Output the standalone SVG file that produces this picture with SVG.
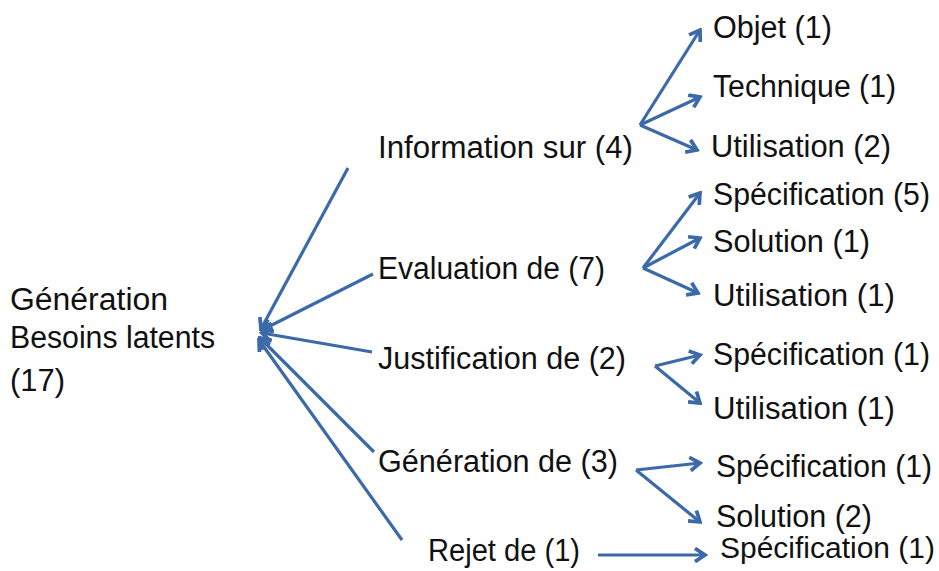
<svg xmlns="http://www.w3.org/2000/svg" width="939" height="571" viewBox="0 0 939 571">
<style>
text{font-family:"Liberation Sans",Arial,sans-serif;font-size:31px;fill:#111}
.c line{stroke:#3c6aa8;stroke-width:3.2;fill:none;marker-end:url(#ah)}
</style>
<defs>
<marker id="ah" viewBox="0 0 12 12" refX="10" refY="6" markerWidth="5" markerHeight="5" orient="auto" markerUnits="strokeWidth">
<polyline points="2.5,1 10,6 2.5,11" fill="none" stroke="#3c6aa8" stroke-width="2.8" stroke-linejoin="miter"/>
</marker>
</defs>
<rect width="939" height="571" fill="#fff"/>
<g class="c" id="connectors">
<line x1="348" y1="168" x2="261" y2="329"/>
<line x1="373" y1="274" x2="262" y2="330"/>
<line x1="372" y1="352" x2="262" y2="333"/>
<line x1="374" y1="452" x2="260" y2="338"/>
<line x1="402" y1="540" x2="259" y2="340"/>
<line x1="640" y1="125" x2="700" y2="30"/>
<line x1="640" y1="125" x2="700" y2="97"/>
<line x1="640" y1="125" x2="697" y2="150"/>
<line x1="643" y1="268" x2="700" y2="193"/>
<line x1="643" y1="268" x2="700" y2="238"/>
<line x1="643" y1="268" x2="698" y2="293"/>
<line x1="655" y1="366" x2="700" y2="355"/>
<line x1="655" y1="366" x2="700" y2="403"/>
<line x1="636" y1="470" x2="700" y2="463"/>
<line x1="636" y1="470" x2="700" y2="522"/>
<line x1="598" y1="555" x2="705" y2="555"/>
</g>
<g id="root"><text x="10" y="310" textLength="158" lengthAdjust="spacingAndGlyphs">Génération</text><text x="10" y="348" textLength="205" lengthAdjust="spacingAndGlyphs">Besoins latents</text><text x="10" y="391" textLength="55" lengthAdjust="spacingAndGlyphs">(17)</text></g>
<g id="info"><text x="378" y="158" textLength="255" lengthAdjust="spacingAndGlyphs">Information sur (4)</text></g>
<g id="objet"><text x="713" y="38" textLength="119" lengthAdjust="spacingAndGlyphs">Objet (1)</text></g>
<g id="technique"><text x="713" y="97" textLength="183" lengthAdjust="spacingAndGlyphs">Technique (1)</text></g>
<g id="util2"><text x="711" y="157" textLength="180" lengthAdjust="spacingAndGlyphs">Utilisation (2)</text></g>
<g id="eval"><text x="378" y="279" textLength="227" lengthAdjust="spacingAndGlyphs">Evaluation de (7)</text></g>
<g id="spec5"><text x="713" y="205" textLength="217" lengthAdjust="spacingAndGlyphs">Spécification (5)</text></g>
<g id="sol1"><text x="713" y="252" textLength="157" lengthAdjust="spacingAndGlyphs">Solution (1)</text></g>
<g id="util1a"><text x="713" y="306" textLength="182" lengthAdjust="spacingAndGlyphs">Utilisation (1)</text></g>
<g id="just"><text x="378" y="369" textLength="248" lengthAdjust="spacingAndGlyphs">Justification de (2)</text></g>
<g id="spec1a"><text x="713" y="365" textLength="217" lengthAdjust="spacingAndGlyphs">Spécification (1)</text></g>
<g id="util1b"><text x="713" y="419" textLength="182" lengthAdjust="spacingAndGlyphs">Utilisation (1)</text></g>
<g id="gen"><text x="378" y="472" textLength="240" lengthAdjust="spacingAndGlyphs">Génération de (3)</text></g>
<g id="spec1b"><text x="716" y="477" textLength="216" lengthAdjust="spacingAndGlyphs">Spécification (1)</text></g>
<g id="sol2"><text x="716" y="527" textLength="156" lengthAdjust="spacingAndGlyphs">Solution (2)</text></g>
<g id="rejet"><text x="428" y="561" textLength="152" lengthAdjust="spacingAndGlyphs">Rejet de (1)</text></g>
<g id="spec1c"><text x="720" y="558" style="font-size:30px" textLength="215" lengthAdjust="spacingAndGlyphs">Spécification (1)</text></g>
</svg>
